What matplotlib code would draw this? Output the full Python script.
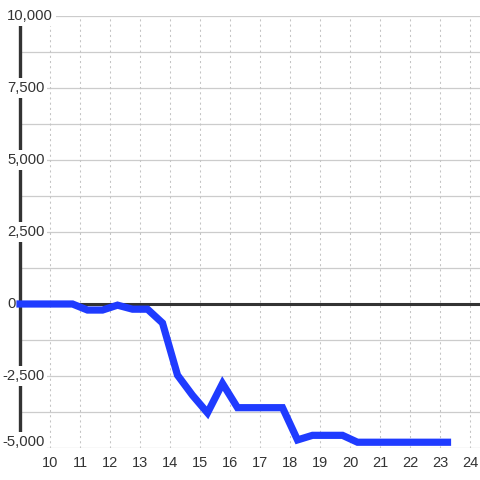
import numpy as np
import matplotlib; matplotlib.use("Agg"); import matplotlib.pyplot as plt
from matplotlib.transforms import blended_transform_factory

plt.rcParams['font.family'] = ['Liberation Sans', 'DejaVu Sans']

# data
hours = [9.0, 10.75, 11.25, 11.75, 12.25, 12.75, 13.25, 13.75, 14.25, 14.75, 15.25,
         15.75, 16.25, 17.75, 18.25, 18.75, 19.75, 20.25, 23.25]
values = [0, 0, -210, -210, -40, -180, -180, -660, -2470, -3170, -3780,
          -2760, -3600, -3600, -4720, -4560, -4560, -4800, -4800]
xticks = list(range(10, 25))
yticks = [-5000, -3750, -2500, -1250, 0, 1250, 2500, 3750, 5000, 6250, 7500, 8750, 10000]
ylabels = {-5000: "-5,000", -2500: "-2,500", 0: "0", 2500: "2,500",
           5000: "5,000", 7500: "7,500", 10000: "10,000"}

fig = plt.figure(figsize=(4.8, 4.8), dpi=100)
ax = fig.add_axes([20/480, 32/480, 460/480, 432/480])
ax.set_xlim(9, 9 + 460/30); ax.set_ylim(-5000, 10000)
for s in ax.spines.values(): s.set_visible(False)

ax.set_yticks(yticks); ax.set_yticklabels([])
ax.set_xticks(xticks)
ax.tick_params(length=0, labelsize=10.5, labelcolor="#333", pad=6)
for y in yticks:
    ax.axhline(y, color="#cccccc", lw=0.9, zorder=1)
for x in xticks:
    ax.axvline(x, color="#c4c4c4", lw=0.75, ls=(0, (2, 3)), zorder=1)

ax.axvline(9, color="#333333", lw=2.4, zorder=2, clip_on=False)
ax.axhline(0, color="#333333", lw=2.2, zorder=2)

tr = blended_transform_factory(fig.transFigure, ax.transData)
for v, lab in ylabels.items():
    xx = 2/480 if v < 0 else 7/480
    yy = v + 200 if v == -5000 else v
    ax.text(xx, yy, lab, transform=tr, ha="left", va="center", fontsize=10.7,
            color="#333", zorder=3,
            bbox=dict(facecolor="white", edgecolor="none", pad=2))

ax.plot(hours, values, color="#1f3bff", lw=5.2, solid_capstyle="projecting",
        solid_joinstyle="miter", zorder=4, clip_on=False)

fig.savefig("out.png", dpi=100)
